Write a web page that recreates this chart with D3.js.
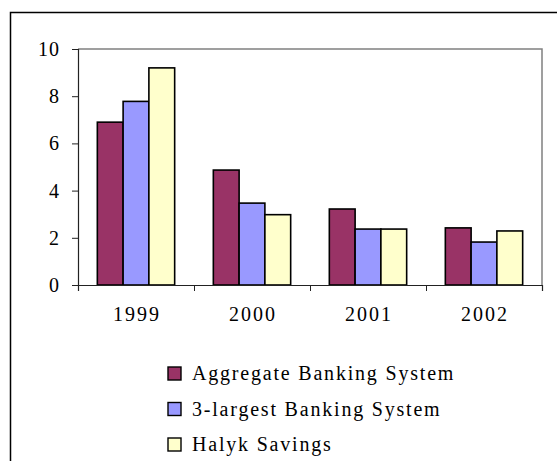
<!DOCTYPE html>
<html>
<head>
<meta charset="utf-8">
<script src="https://cdn.jsdelivr.net/npm/d3@7"></script>
</head>
<body style="margin:0; background:#fff">
<div id="chart"></div>
<script>
const years = ["1999", "2000", "2001", "2002"];
const seriesNames = ["Aggregate Banking System", "3-largest Banking System", "Halyk Savings"];
const aggregate = [6.9, 4.87, 3.22, 2.42];
const largest3 = [7.78, 3.47, 2.37, 1.82];
const halyk = [9.2, 2.98, 2.37, 2.29];
const colors = ["#993366", "#9999ff", "#ffffcc"];
const yTicks = [0, 2, 4, 6, 8, 10];

const allSeries = [aggregate, largest3, halyk];
const serif = "Liberation Serif";

const width = 557, height = 461;
const plot = { left: 78, right: 542, top: 49, bottom: 285 };

const svg = d3.select("#chart")
    .append("svg")
    .attr("width", width)
    .attr("height", height)
    .attr("font-family", serif);

// outer chart border
svg.append("rect")
    .attr("x", 10.5)
    .attr("y", 12.5)
    .attr("width", 560)
    .attr("height", 470)
    .attr("fill", "none")
    .attr("stroke", "#000")
    .attr("stroke-width", 1.5);

const x0 = d3.scaleBand()
    .domain(years)
    .range([plot.left, plot.right]);

const bw = x0.bandwidth();
const x1 = d3.scaleBand()
    .domain(d3.range(3))
    .range([bw * 0.75 / 4.5, bw - bw * 0.75 / 4.5]);

const y = d3.scaleLinear()
    .domain([0, 10])
    .range([plot.bottom, plot.top]);

// plot frame (top and right, gray)
svg.append("path")
    .attr("d", `M${plot.left},${plot.top}H${plot.right}V${plot.bottom}`)
    .attr("fill", "none")
    .attr("stroke", "#808080")
    .attr("stroke-width", 1.5);

// bars
const groups = svg.selectAll(".year")
    .data(years)
    .enter()
    .append("g")
    .attr("transform", d => `translate(${x0(d)},0)`);

groups.selectAll("rect")
    .data((d, i) => allSeries.map((s, k) => ({ k: k, v: s[i] })))
    .enter()
    .append("rect")
    .attr("x", d => x1(d.k))
    .attr("y", d => y(d.v))
    .attr("width", x1.bandwidth())
    .attr("height", d => y(0) - y(d.v))
    .attr("fill", d => colors[d.k])
    .attr("stroke", "#000")
    .attr("stroke-width", 1.6);

// y axis
const yAxis = svg.append("g")
    .attr("transform", `translate(${plot.left},0)`)
    .call(d3.axisLeft(y).tickValues(yTicks).tickSize(6).tickPadding(12).tickFormat(d3.format("d")))
    .attr("font-family", serif)
    .attr("font-size", 20);
yAxis.select(".domain").attr("stroke", "#222").attr("stroke-width", 1.2);
yAxis.selectAll(".tick line").attr("stroke", "#222");
yAxis.selectAll("text")
    .attr("font-family", serif)
    .attr("letter-spacing", 1)
    .attr("fill", "#000");

// x axis with ticks at band boundaries
const xAxisScale = d3.scaleLinear().domain([0, 4]).range([plot.left, plot.right]);
const xAxis = svg.append("g")
    .attr("transform", `translate(0,${plot.bottom})`)
    .call(d3.axisBottom(xAxisScale).tickValues([0, 1, 2, 3, 4]).tickSize(6).tickFormat(""));
xAxis.select(".domain").attr("stroke", "#222").attr("stroke-width", 1.2);
xAxis.selectAll(".tick line").attr("stroke", "#222");

svg.selectAll(".xlabel")
    .data(years)
    .enter()
    .append("text")
    .attr("x", d => x0(d) + bw / 2 + 1)
    .attr("y", 321)
    .attr("text-anchor", "middle")
    .attr("font-family", serif)
    .attr("font-size", 20)
    .attr("letter-spacing", 2)
    .text(d => d);

// legend
const legend = svg.selectAll(".legend")
    .data(seriesNames)
    .enter()
    .append("g")
    .attr("transform", (d, i) => `translate(168,${373 + i * 35.5})`);

legend.append("rect")
    .attr("x", 0)
    .attr("y", -6)
    .attr("width", 13)
    .attr("height", 13)
    .attr("fill", (d, i) => colors[i])
    .attr("stroke", "#000")
    .attr("stroke-width", 1.4);

legend.append("text")
    .attr("x", 24)
    .attr("y", 7)
    .attr("font-family", serif)
    .attr("font-size", 20)
    .attr("letter-spacing", 1.8)
    .text(d => d);
</script>
</body>
</html>
